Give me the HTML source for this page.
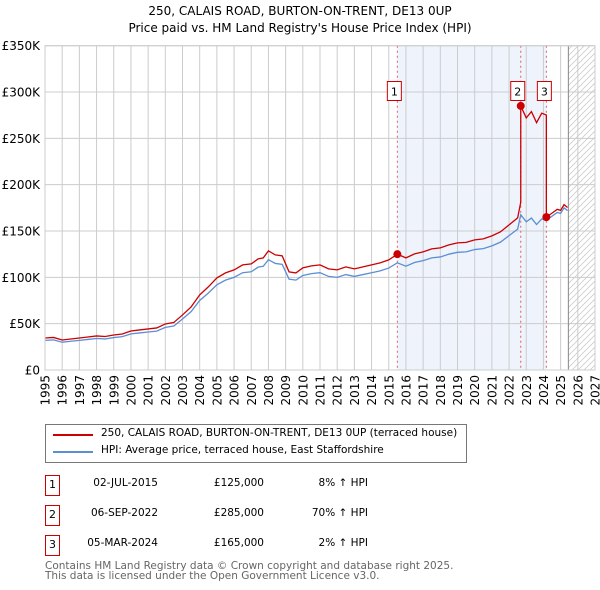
<!DOCTYPE html>
<html><head><meta charset="utf-8"><style>
body{margin:0;background:#fff;font-family:"DejaVu Sans",sans-serif;}
#wrap{position:relative;width:600px;height:590px;overflow:hidden;}
.t{position:absolute;font-size:10.5px;color:#000;white-space:nowrap;}
</style></head><body><div id="wrap">
<div class="t" style="left:0;width:600px;text-align:center;top:3px;font-size:12px;line-height:17px">250, CALAIS ROAD, BURTON-ON-TRENT, DE13 0UP<br>Price paid vs. HM Land Registry's House Price Index (HPI)</div>
<svg id="chart" width="600" height="415" style="position:absolute;left:0;top:0"></svg>
<div style="position:absolute;left:45px;top:424px;width:420px;height:37px;border:1px solid #777;">
 <div style="position:absolute;left:7px;top:9px;width:40px;height:2px;background:#cc0000"></div>
 <div class="t" style="left:55px;top:2px;font-size:10.5px">250, CALAIS ROAD, BURTON-ON-TRENT, DE13 0UP (terraced house)</div>
 <div style="position:absolute;left:7px;top:26px;width:40px;height:2px;background:#5b8fd4"></div>
 <div class="t" style="left:55px;top:19px;font-size:10.5px">HPI: Average price, terraced house, East Staffordshire</div>
</div>
<div id="rows"></div>
<div class="t" style="left:45px;top:561px;font-size:10.5px;line-height:10px;color:#666">Contains HM Land Registry data © Crown copyright and database right 2025.<br>This data is licensed under the Open Government Licence v3.0.</div>
</div>
<script>
const years=[1995,1996,1997,1998,1999,2000,2001,2002,2003,2004,2005,2006,2007,2008,2009,2010,2011,2012,2013,2014,2015,2016,2017,2018,2019,2020,2021,2022,2023,2024,2025,2026,2027];
const yTicks=[0,50000,100000,150000,200000,250000,300000,350000];
const yLabels=["£0","£50K","£100K","£150K","£200K","£250K","£300K","£350K"];
const hpiDates=[1995,1995.5,1996,1996.5,1997,1997.5,1998,1998.5,1999,1999.5,2000,2000.5,2001,2001.5,2002,2002.5,2003,2003.5,2004,2004.5,2005,2005.5,2006,2006.5,2007,2007.4,2007.7,2008,2008.4,2008.8,2009.2,2009.6,2010,2010.5,2011,2011.5,2012,2012.5,2013,2013.5,2014,2014.5,2015,2015.5,2016,2016.5,2017,2017.5,2018,2018.5,2019,2019.5,2020,2020.5,2021,2021.5,2022,2022.5,2022.68,2023,2023.3,2023.6,2023.9,2024.17,2024.5,2024.8,2025,2025.2,2025.4];
const hpiValues=[32000,32500,30000,31000,32000,33000,34000,33500,35000,36000,39000,40000,41000,42000,46000,47500,55000,63000,75000,83000,92000,97000,100000,105000,106000,111000,112000,119000,115000,114000,98000,97000,102000,104000,105000,101000,100000,103000,101000,103000,105000,107000,110000,115700,112000,116000,118000,121000,122000,125000,127000,127500,130000,131000,134000,138000,145000,152000,167600,160000,164000,157000,163000,161800,166000,170000,169000,175000,172000];
const saleDates=[2015.5,2022.68,2024.17];
const salePrices=[125000,285000,165000];
const saleLabels=["1","2","3"];
const saleDateText=["02-JUL-2015","06-SEP-2022","05-MAR-2024"];
const salePriceText=["£125,000","£285,000","£165,000"];
const saleHpiText=["8% ↑ HPI","70% ↑ HPI","2% ↑ HPI"];
const hatchStart=2025.45;

const X0=45,X1=595,Y0=370,Y1=45.7;
const xs=d=>X0+(d-1995)/(2027-1995)*(X1-X0);
const ys=v=>Y0-v/350000*(Y0-Y1);
const NS="http://www.w3.org/2000/svg";
const svg=document.getElementById('chart');
function mk(tag,attrs,parent){const e=document.createElementNS(NS,tag);for(const k in attrs)e.setAttribute(k,attrs[k]);(parent||svg).appendChild(e);return e;}
const defs=mk('defs',{});
const pat=mk('pattern',{id:'hatch',width:6,height:6,patternUnits:'userSpaceOnUse'},defs);
mk('path',{d:'M0,6 L6,0 M-1,1 L1,-1 M5,7 L7,5',stroke:'#ccc','stroke-width':0.8},pat);
let r=mk('rect',{x:xs(saleDates[0]),y:Y1,width:xs(saleDates[2])-xs(saleDates[0]),height:Y0-Y1,fill:'#eef3fc'});

r=mk('rect',{x:xs(hatchStart),y:Y1,width:X1-xs(hatchStart),height:Y0-Y1,fill:'url(#hatch)'});

years.forEach(y=>{mk('line',{x1:xs(y),x2:xs(y),y1:Y1,y2:Y0,stroke:'#ccc'});
 const t=mk('text',{x:0,y:0,'text-anchor':'end','font-size':12,'font-family':'DejaVu Sans',transform:`translate(${xs(y)+4.5},375) rotate(-90)`});t.textContent=y;
 });
yTicks.forEach((v,i)=>{mk('line',{x1:X0,x2:X1,y1:ys(v),y2:ys(v),stroke:'#ccc'});
 const t=mk('text',{x:40,y:ys(v)+4.5,'text-anchor':'end','font-size':12,'font-family':'DejaVu Sans'});t.textContent=yLabels[i];
 });
mk('line',{x1:xs(hatchStart),x2:xs(hatchStart),y1:Y1,y2:Y0,stroke:'#888'});
saleDates.forEach(d=>mk('line',{x1:xs(d),x2:xs(d),y1:Y1,y2:Y0,stroke:'#e06060','stroke-dasharray':'2,3'}));
let hp=mk('polyline',{points:hpiDates.map((d,i)=>xs(d)+','+ys(hpiValues[i])).join(' '),fill:'none',stroke:'#5b8fd4','stroke-width':1.3});

function hpiAt(d){for(let i=1;i<hpiDates.length;i++){if(d<=hpiDates[i]){const f=(d-hpiDates[i-1])/(hpiDates[i]-hpiDates[i-1]);return hpiValues[i-1]+f*(hpiValues[i]-hpiValues[i-1]);}}return hpiValues[hpiValues.length-1];}
const ratios=saleDates.map((d,i)=>salePrices[i]/hpiAt(d));
const pts=[];
hpiDates.forEach((d,i)=>{let k=0;for(let j=0;j<saleDates.length;j++)if(d>=saleDates[j])k=j;
 saleDates.forEach((sd,j)=>{if(j>0&&sd===d)pts.push([d,hpiValues[i]*ratios[j-1]]);});
 pts.push([d,hpiValues[i]*ratios[k]]);});
let pl=mk('polyline',{points:pts.map(p=>xs(p[0])+','+ys(p[1])).join(' '),fill:'none',stroke:'#cc0000','stroke-width':1.3});

const boxOff=[-3,-3,-2];
saleDates.forEach((d,i)=>{const c=mk('circle',{cx:xs(d),cy:ys(salePrices[i]),r:4,fill:'#cc0000'});
 
 const g=mk('g',{});
 const bx=xs(d)+boxOff[i];
 mk('rect',{x:bx-7,y:81.5,width:14,height:19,fill:'#fff',stroke:'#cc0000'},g);
 const t=mk('text',{x:bx,y:95.5,'text-anchor':'middle','font-size':11,'font-family':'DejaVu Sans'},g);t.textContent=saleLabels[i];});
mk('rect',{x:X0,y:Y1,width:X1-X0,height:Y0-Y1,fill:'none',stroke:'#ccc'});
const rows=document.getElementById('rows');
saleLabels.forEach((l,i)=>{const top=475+i*30;
 rows.insertAdjacentHTML('beforeend',
 `<div>
 <div class="t" style="left:45px;top:${top}px;width:13px;height:19px;border:1px solid #cc0000;text-align:center;line-height:18px;font-size:11px">${l}</div>
 <div class="t" style="left:58px;top:${top+2}px;width:100px;text-align:right">${saleDateText[i]}</div>
 <div class="t" style="left:164px;top:${top+2}px;width:100px;text-align:right">${salePriceText[i]}</div>
 <div class="t" style="left:268px;top:${top+2}px;width:100px;text-align:right">${saleHpiText[i]}</div></div>`);});
</script></body></html>
